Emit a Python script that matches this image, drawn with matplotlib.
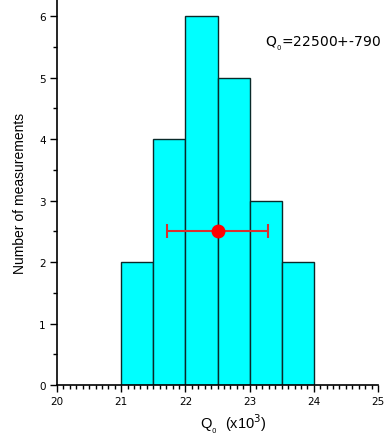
import matplotlib
matplotlib.use("Agg")
import matplotlib.pyplot as plt
from matplotlib.ticker import MultipleLocator

plt.rcParams['font.family'] = ['Liberation Sans', 'DejaVu Sans']

bin_edges = [21.0, 21.5, 22.0, 22.5, 23.0, 23.5, 24.0]
counts = [2, 4, 6, 5, 3, 2]
mean_q = 22.5
err_q = 0.79
marker_y = 2.5
annotation = r"Q$_{_0}$=22500+-790"

fig = plt.figure(figsize=(3.86, 4.35), dpi=100)
ax = fig.add_axes([0.1477, 0.1126, 0.8316, 0.8874])

widths = [bin_edges[i+1] - bin_edges[i] for i in range(len(counts))]
ax.bar(bin_edges[:-1], counts, width=widths, align='edge',
       color='#00FFFF', edgecolor='#0a2a2a', linewidth=1.0, zorder=2)

ax.errorbar([mean_q], [marker_y], xerr=[err_q], fmt='o', color='red',
            markersize=9, ecolor='#d83030', elinewidth=1.5, capsize=5,
            capthick=1.5, zorder=3)

ax.set_xlim(20, 25)
ax.set_ylim(0, 6.28)
ax.xaxis.set_major_locator(MultipleLocator(1))
ax.xaxis.set_minor_locator(MultipleLocator(0.1))
ax.yaxis.set_major_locator(MultipleLocator(1))
ax.yaxis.set_minor_locator(MultipleLocator(0.5))
ax.tick_params(which='major', direction='out', length=5, width=1, labelsize=7.5, pad=3)
ax.tick_params(which='minor', direction='out', length=3, width=1)
for lab in ax.get_xticklabels() + ax.get_yticklabels():
    lab.set_family('DejaVu Sans')

for s in ['top', 'right']:
    ax.spines[s].set_visible(False)
for s in ['left', 'bottom']:
    ax.spines[s].set_linewidth(1.2)

ax.set_ylabel("Number of measurements", fontsize=10, labelpad=9)
ax.set_xlabel(r"Q$_{_0}$  (x10$^{3}$)", fontsize=10.5)
ax.xaxis.set_label_coords(0.548, -0.068)

ax.text(23.24, 5.56, annotation, fontsize=10, ha='left', va='center',
        family='DejaVu Sans')

fig.savefig("out.png", dpi=100)
